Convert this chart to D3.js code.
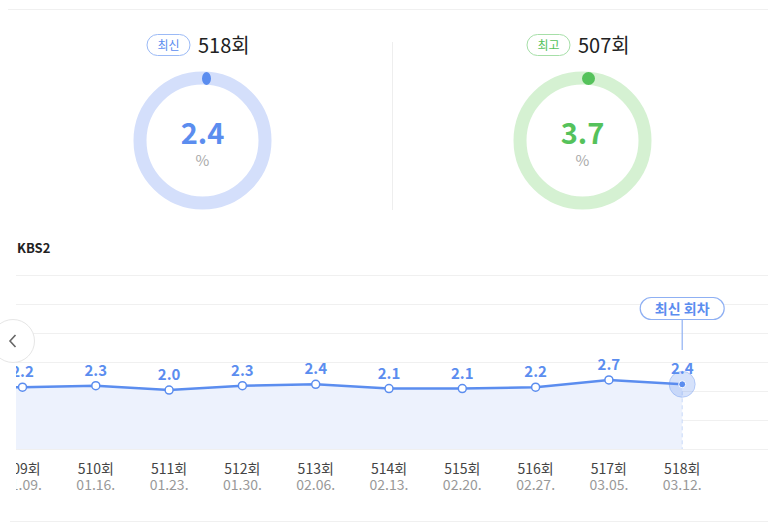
<!DOCTYPE html>
<html><head><meta charset="utf-8">
<script src="https://cdn.jsdelivr.net/npm/d3@7"></script>
<style>
html,body{margin:0;padding:0;background:#fff;}
svg{display:block;font-family:"Noto Sans CJK KR","Noto Sans",sans-serif;}
</style></head>
<body>
<svg id="c" width="768" height="523"></svg>
<script>
// ---- data ----
const summaryBadges = ["최신", "최고"];
const summaryEpisodes = ["518회", "507회"];
const summaryValues = [2.4, 3.7];
const channel = "KBS2";
const episodes = ["508회","509회","510회","511회","512회","513회","514회","515회","516회","517회","518회"];
const dates = ["01.02.","01.09.","01.16.","01.23.","01.30.","02.06.","02.13.","02.20.","02.27.","03.05.","03.12."];
const ratings = [2.2, 2.2, 2.3, 2.0, 2.3, 2.4, 2.1, 2.1, 2.2, 2.7, 2.4];
const latestLabel = "최신 회차";

const svg = d3.select("#c");
const BLUE = "#5b8def", GREEN = "#55c25b";
const themes = [
  {main: BLUE, ring: "#d4dffb", border: "#9bbaf6"},
  {main: GREEN, ring: "#d5f1d2", border: "#a6dfa8"}
];

// top line & divider
svg.append("line").attr("x1", 8).attr("x2", 768).attr("y1", 9.5).attr("y2", 9.5).attr("stroke", "#f0f0f0");
svg.append("line").attr("x1", 392.5).attr("x2", 392.5).attr("y1", 42).attr("y2", 210).attr("stroke", "#eeeeee");

// summary donuts
const cx = d3.scalePoint().domain(d3.range(summaryValues.length)).range([202.5, 582.5]);
summaryValues.forEach((v, i) => {
  const t = themes[i];
  const g = svg.append("g").attr("transform", `translate(${cx(i)},0)`);
  // badge + episode
  g.append("rect").attr("x", -55.5).attr("y", 34.5).attr("width", 43).attr("height", 21).attr("rx", 10.5)
    .attr("fill", "#fff").attr("stroke", t.border);
  g.append("text").attr("x", -34).attr("y", 49.5).attr("text-anchor", "middle")
    .attr("font-size", 12).attr("fill", t.main).text(summaryBadges[i]);
  g.append("text").attr("x", -4.5).attr("y", 53).attr("font-size", 20).attr("fill", "#222")
    .text(summaryEpisodes[i]);
  // ring
  const cyR = 140.5;
  g.append("circle").attr("cx", 0).attr("cy", cyR).attr("r", 62.5)
    .attr("fill", "none").attr("stroke", t.ring).attr("stroke-width", 13);
  g.append("ellipse").attr("cx", i === 0 ? 4 : 6).attr("cy", cyR - 62).attr("rx", i === 0 ? 4.5 : 6.5).attr("ry", 6.5)
    .attr("fill", t.main);
  g.append("text").attr("x", 0).attr("y", 144).attr("text-anchor", "middle")
    .attr("font-size", 29).attr("font-weight", "bold").attr("fill", t.main).text(v.toFixed(1));
  g.append("text").attr("x", 0).attr("y", 165.5).attr("text-anchor", "middle")
    .attr("font-size", 15).attr("fill", "#aaa").text("%");
});

// channel label
svg.append("text").attr("x", 17).attr("y", 253).attr("font-size", 13).attr("font-weight", "bold")
  .attr("fill", "#222").text(channel);

// chart scales
const x = d3.scalePoint().domain(episodes).range([-50.8, 682.2]);
const yTop = 275, yBot = 449;
const y = d3.scaleLinear().domain([-2.1, 10]).range([yBot, yTop]);

// gridlines
const grid = d3.range(7).map(i => yTop + i * (yBot - yTop) / 6);
svg.append("g").selectAll("line").data(grid).join("line")
  .attr("x1", 16).attr("x2", 768).attr("y1", d => Math.round(d) + 0.5).attr("y2", d => Math.round(d) + 0.5)
  .attr("stroke", "#f0f0f0");

svg.append("defs").append("clipPath").attr("id", "clip")
  .append("rect").attr("x", 16).attr("y", 0).attr("width", 752).attr("height", 523);
const plot = svg.append("g").attr("clip-path", "url(#clip)");

const pts = episodes.map((e, i) => ({e, d: dates[i], v: ratings[i]}));
plot.append("path").datum(pts)
  .attr("d", d3.area().x(d => x(d.e)).y0(yBot).y1(d => y(d.v)))
  .attr("fill", "#edf2fd");
const last = pts[pts.length - 1];
plot.append("line").attr("x1", x(last.e)).attr("x2", x(last.e)).attr("y1", y(last.v)).attr("y2", yBot)
  .attr("stroke", "#c9d8f9").attr("stroke-dasharray", "4,3");
plot.append("path").datum(pts)
  .attr("d", d3.line().x(d => x(d.e)).y(d => y(d.v)))
  .attr("fill", "none").attr("stroke", BLUE).attr("stroke-width", 2.5).attr("stroke-linejoin", "round");
plot.append("g").selectAll("circle").data(pts.slice(0, -1)).join("circle")
  .attr("cx", d => x(d.e)).attr("cy", d => y(d.v)).attr("r", 4)
  .attr("fill", "#fff").attr("stroke", BLUE).attr("stroke-width", 1.5);
// latest halo
plot.append("circle").attr("cx", x(last.e)).attr("cy", y(last.v)).attr("r", 13)
  .attr("fill", "rgba(91,141,239,0.25)").attr("stroke", "rgba(91,141,239,0.35)");
plot.append("circle").attr("cx", x(last.e)).attr("cy", y(last.v)).attr("r", 3.5)
  .attr("fill", BLUE).attr("stroke", "#fff").attr("stroke-width", 1);
// value labels
plot.append("g").selectAll("text").data(pts).join("text")
  .attr("x", d => x(d.e)).attr("y", d => y(d.v) - 10).attr("text-anchor", "middle")
  .attr("font-size", 15).attr("font-weight", "bold").attr("fill", BLUE).text(d => d.v.toFixed(1));
// x tick labels
const ticks = plot.append("g").selectAll("g").data(pts).join("g")
  .attr("transform", d => `translate(${x(d.e)},0)`);
ticks.append("text").attr("y", 474).attr("text-anchor", "middle").attr("font-size", 14).attr("fill", "#444").text(d => d.e);
ticks.append("text").attr("y", 490).attr("text-anchor", "middle").attr("font-size", 14).attr("fill", "#999").text(d => d.d);

// latest annotation
const lx = x(last.e);
svg.append("line").attr("x1", lx).attr("x2", lx).attr("y1", 320).attr("y2", 350).attr("stroke", "#8fb0f3").attr("stroke-width", 1.2);
svg.append("rect").attr("x", lx - 42).attr("y", 297.5).attr("width", 84).attr("height", 22).attr("rx", 11)
  .attr("fill", "#fff").attr("stroke", "#8fb0f3").attr("stroke-width", 1.2);
svg.append("text").attr("x", lx).attr("y", 313.5).attr("text-anchor", "middle").attr("font-size", 14)
  .attr("font-weight", "bold").attr("fill", BLUE).text(latestLabel);

// nav button
svg.append("circle").attr("cx", 13).attr("cy", 341).attr("r", 21.5).attr("fill", "#fff").attr("stroke", "#e6e6e6");
svg.append("path").attr("d", "M15.5,335 L10,341 L15.5,347").attr("fill", "none").attr("stroke", "#666").attr("stroke-width", 1.6);

// bottom line
svg.append("line").attr("x1", 10).attr("x2", 768).attr("y1", 521.5).attr("y2", 521.5).attr("stroke", "#f0f0f0");
</script>
</body></html>
